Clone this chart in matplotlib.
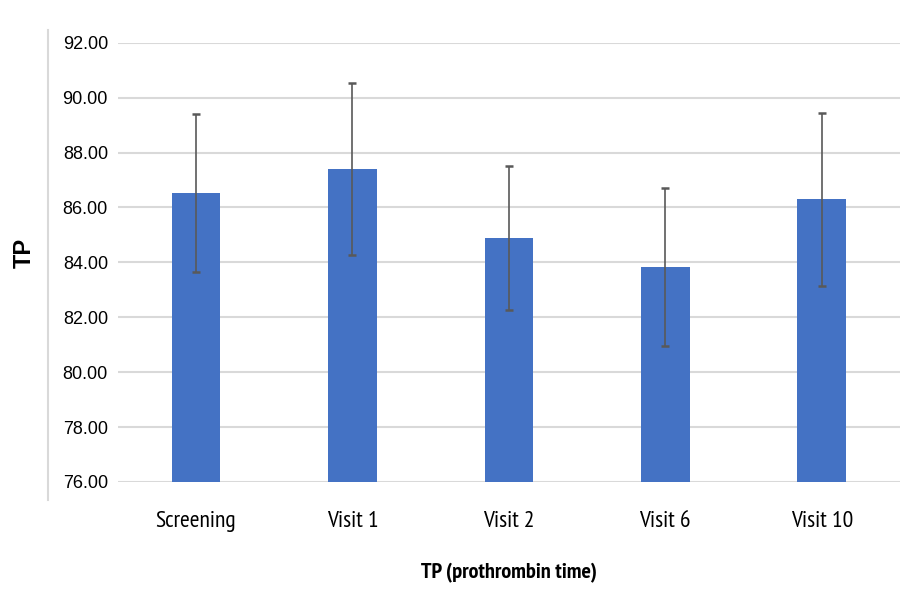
import numpy as np
import matplotlib.pyplot as plt
from matplotlib.lines import Line2D

# values
visits = ['Screening', 'Visit 1', 'Visit 2', 'Visit 6', 'Visit 10']
tp_mean = [86.54, 87.40, 84.88, 83.83, 86.29]
tp_sd = [2.88, 3.15, 2.63, 2.88, 3.16]
yticks = [76, 78, 80, 82, 84, 86, 88, 90, 92]

narrow = ['PT Sans Narrow', 'Roboto Condensed', 'DejaVu Sans']

fig = plt.figure(figsize=(9.11, 5.90), dpi=100)
ax = fig.add_axes([0.1292, 0.1831, 0.8587, 0.7445])

x = np.arange(len(visits))
ax.bar(x, np.array(tp_mean) - 76, bottom=76, width=0.31, color='#4472C4', zorder=2)
ax.errorbar(x, tp_mean, yerr=tp_sd, fmt='none', ecolor='#595959',
            elinewidth=1.2, capsize=3, capthick=1.8, zorder=3)

ax.set_xlim(-0.5, len(visits) - 0.5)
ax.set_ylim(76, 92)
ax.set_yticks(yticks)
ax.set_yticklabels([f'{v:.2f}' for v in yticks], fontsize=13,
                   fontfamily=['Liberation Sans', 'DejaVu Sans'])
ax.set_xticks(x)
ax.set_xticklabels(visits, fontsize=17, fontfamily=narrow)
ax.tick_params(axis='y', length=0, pad=7)
ax.tick_params(axis='x', length=0, pad=21)

ax.grid(axis='y', color='#D9D9D9', linewidth=1.5, zorder=0)
for s in ax.spines.values():
    s.set_visible(False)

ax.set_xlabel('TP (prothrombin time)', fontsize=16, fontweight='bold',
              fontfamily=narrow, labelpad=22)
fig.text(0.027, 0.571, 'TP', rotation=90, fontsize=17, fontweight='bold',
         fontfamily=['Liberation Sans', 'DejaVu Sans'], ha='center', va='center')

# light border line on the left of the plot area
fig.add_artist(Line2D([0.0524, 0.0524], [0.1525, 0.949], transform=fig.transFigure,
                      color='#D9D9D9', linewidth=1.5))

fig.savefig('out.png', dpi=100)
